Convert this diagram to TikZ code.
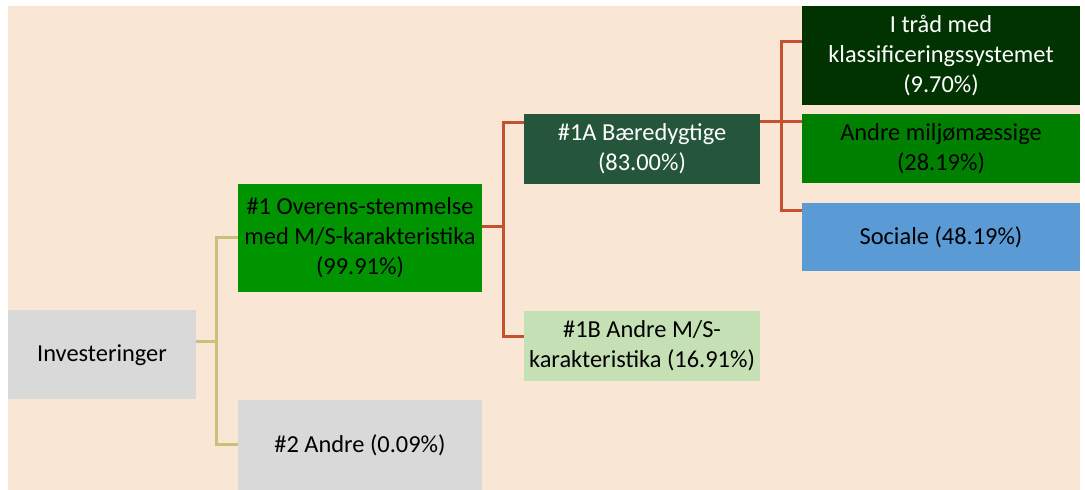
\documentclass[tikz,border=0pt]{standalone}
\usepackage{fontspec}
\setmainfont{Carlito}
\definecolor{peach}{HTML}{FAE6D4}
\definecolor{greybox}{HTML}{D9D9D9}
\definecolor{greenone}{HTML}{009400}
\definecolor{darkgreen}{HTML}{25553A}
\definecolor{lightgreen}{HTML}{C6E0B5}
\definecolor{deepgreen}{HTML}{003300}
\definecolor{midgreen}{HTML}{008000}
\definecolor{blueish}{HTML}{5B9BD5}
\definecolor{ylinecol}{HTML}{C9C07A}
\definecolor{rlinecol}{HTML}{C4502D}
\begin{document}
\begin{tikzpicture}[x=0.5pt,y=-0.5pt,
	box/.style={rectangle,inner sep=0pt,align=center,font=\fontsize{12.2}{15}\selectfont},
	ylink/.style={draw=ylinecol,line width=1.5pt},
	rlink/.style={draw=rlinecol,line width=1.5pt}]
		\useasboundingbox (0,0) rectangle (1085,490);
		\fill[peach] (8,6) rectangle (1080,490);

		\node[box,fill=greybox,minimum width=94pt,minimum height=44.5pt] (inv) at (102,355) {Investeringer};
		\node[box,fill=greenone,minimum width=122pt,minimum height=54pt] (n1) at (360,238) {\#1 Overens-stemmelse\\med M/S-karakteristika\\(99.91\%)};
		\node[box,fill=greybox,minimum width=122pt,minimum height=45pt] (n2) at (360,445) {\#2 Andre (0.09\%)};
		\node[box,fill=darkgreen,text=white,minimum width=118pt,minimum height=35pt] (n1a) at (642,149) {\#1A Bæredygtige\\(83.00\%)};
		\node[box,fill=lightgreen,minimum width=118pt,minimum height=35pt] (n1b) at (642,346) {\#1B Andre M/S-\\karakteristika (16.91\%)};
		\node[box,fill=deepgreen,text=white,minimum width=139pt,minimum height=49.5pt] (tax) at (941,55.5) {I tråd med\\klassificeringssystemet\\(9.70\%)};
		\node[box,fill=midgreen,minimum width=139pt,minimum height=34.5pt] (env) at (941,148.5) {Andre miljømæssige\\(28.19\%)};
		\node[box,fill=blueish,minimum width=139pt,minimum height=34pt] (soc) at (941,237) {Sociale (48.19\%)};

		% investeringer -> #1, #2
		\coordinate (ysplit) at (216,342);
		\draw[ylink] ([yshift=6.5pt]inv.east) -- (ysplit);
		\draw[ylink] (n1.west) -| (ysplit) |- (n2.west);

		% #1 -> #1A, #1B
		\coordinate (rsplit) at (503,227);
		\draw[rlink] ([yshift=5.5pt]n1.east) -- (rsplit);
		\draw[rlink] ([yshift=13pt]n1a.west) -| (rsplit) |- ([yshift=4.5pt]n1b.west);

		% #1A -> underopdeling
		\coordinate (rsplitb) at (781,122);
		\draw[rlink] ([yshift=13.5pt]n1a.east) -- (rsplitb);
		\draw[rlink] ([yshift=6.75pt]tax.west) -| (rsplitb) |- ([yshift=13pt]soc.west);
		\draw[rlink] (rsplitb) -- ([yshift=13.25pt]env.west);
	\end{tikzpicture}
\end{document}
